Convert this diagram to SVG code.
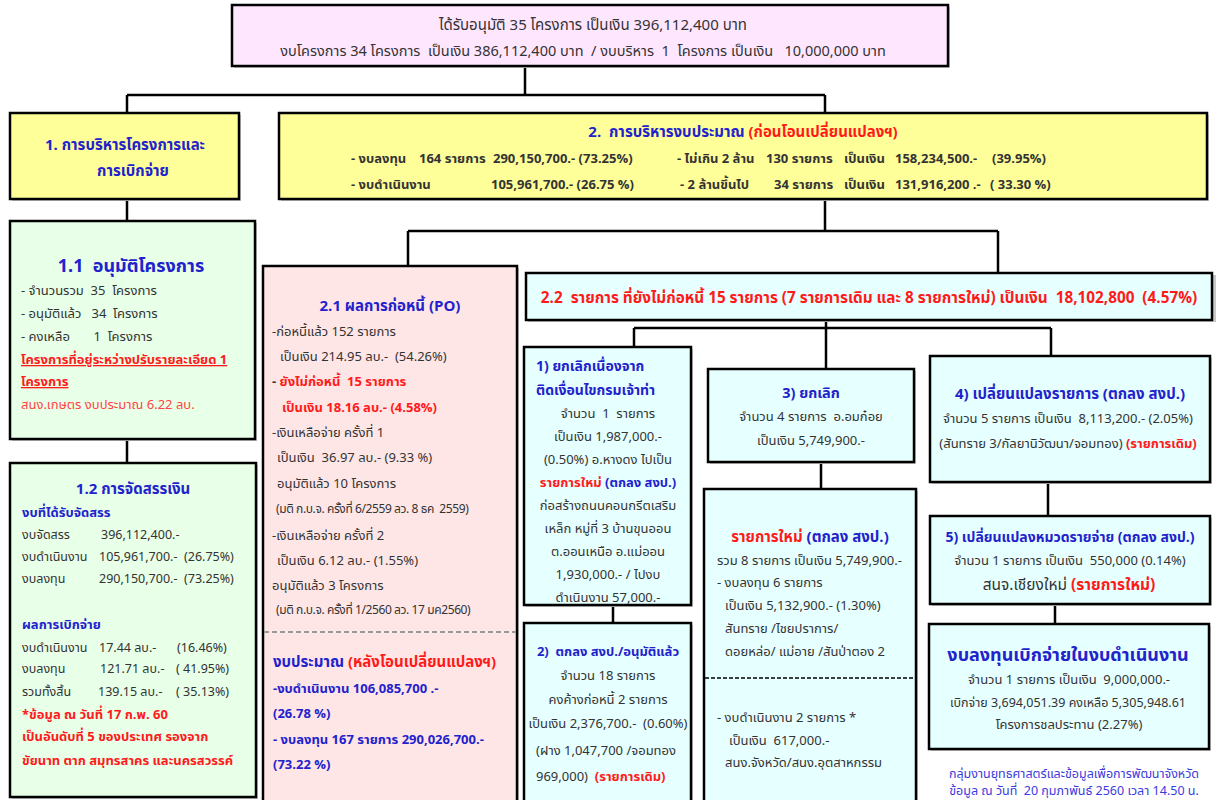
<svg xmlns="http://www.w3.org/2000/svg" width="1216" height="800" viewBox="0 0 1216 800">
<style>
.bx{stroke:#000;stroke-width:2.5}
.sh{fill:#c8c8c8}
.pk{fill:#FFE6FF}
.yl{fill:#FFFF99}
.gr{fill:#E8FFE8}
.rs{fill:#FFE6E6}
.cy{fill:#E6FFFF}
text{font-family:Tahoma,"Noto Sans Thai","Noto Sans Thai UI","Noto Sans","DejaVu Sans",sans-serif;font-size:13px;fill:#333}
.b{font-weight:bold}
.bl{fill:#2222CC}
.rd{fill:#FF1A1A}
.c{text-anchor:middle}
.ln{stroke:#000;stroke-width:2.5;fill:none}
.ft{fill:#3B3BDD;font-size:12.5px}
.s12{font-size:12px;letter-spacing:-0.4px}
.s125{font-size:12.5px}
.s14{font-size:14px}
.s145{font-size:14.5px}
.s15{font-size:15px}
.s153{font-size:15.3px}
.s155{font-size:15.5px}
.s18{font-size:18px}
</style>
<g id="connectors" class="ln">
<path d="M525,66V95M127,95H825M127,95V113M825,95V113M127,199V221M127,439V463M825,199V231M408,231H998M408,231V266M998,231V273M826,320V369M634,328H1051M634,328V346M1051,328V356M613,605V623M821,462V489M1048,482V516M1055,604V624"/>
</g>
<g id="top">
<rect class="sh" x="234" y="7" width="716" height="61"/>
<rect class="bx pk" x="232" y="5" width="716" height="61"/>
<text class="c s15" x="593" y="30">ได้รับอนุมัติ 35 โครงการ เป็นเงิน 396,112,400 บาท</text>
<text class="c s145" x="583" y="56" xml:space="preserve">งบโครงการ 34 โครงการ  เป็นเงิน 386,112,400 บาท  / งบบริหาร  1  โครงการ เป็นเงิน   10,000,000 บาท</text>
</g>
<g id="n1">
<rect class="sh" x="12" y="115" width="229" height="86"/>
<rect class="bx yl" x="10" y="113" width="229" height="86"/>
<text class="c b bl s15" x="125" y="150">1. การบริหารโครงการและ</text>
<text class="c b bl s15" x="133" y="176">การเบิกจ่าย</text>
</g>
<g id="n2">
<rect class="sh" x="281" y="115" width="928" height="86"/>
<rect class="bx yl" x="279" y="113" width="928" height="86"/>
<text class="c b s15" x="743" y="137" xml:space="preserve"><tspan class="bl">2.  การบริหารงบประมาณ </tspan><tspan class="rd">(ก่อนโอนเปลี่ยนแปลงฯ)</tspan></text>
<text class="b" x="351" y="163">- งบลงทุน</text>
<text class="b" x="419" y="163">164 รายการ</text>
<text class="b" x="493" y="163">290,150,700.- (73.25%)</text>
<text class="b" x="677" y="163">- ไม่เกิน 2 ล้าน</text>
<text class="b" x="766" y="163">130 รายการ</text>
<text class="b" x="844" y="163">เป็นเงิน</text>
<text class="b" x="895" y="163">158,234,500.-</text>
<text class="b" x="992" y="163">(39.95%)</text>
<text class="b" x="351" y="189">- งบดำเนินงาน</text>
<text class="b" x="491" y="189">105,961,700.- (26.75 %)</text>
<text class="b" x="680" y="189">- 2 ล้านขึ้นไป</text>
<text class="b" x="774" y="189">34 รายการ</text>
<text class="b" x="844" y="189">เป็นเงิน</text>
<text class="b" x="895" y="189">131,916,200 .-</text>
<text class="b" x="990" y="189">( 33.30 %)</text>
</g>
<g id="n11">
<rect class="sh" x="12" y="223" width="245" height="218"/>
<rect class="bx gr" x="10" y="221" width="245" height="218"/>
<text class="c b bl s18" x="131" y="272" xml:space="preserve">1.1  อนุมัติโครงการ</text>
<text x="21" y="295" xml:space="preserve">- จำนวนรวม  35  โครงการ</text>
<text x="21" y="318" xml:space="preserve">- อนุมัติแล้ว   34  โครงการ</text>
<text x="21" y="341" xml:space="preserve">- คงเหลือ       1  โครงการ</text>
<text class="b rd" x="21" y="364" text-decoration="underline">โครงการที่อยู่ระหว่างปรับรายละเอียด 1</text>
<text class="b rd" x="21" y="386" text-decoration="underline">โครงการ</text>
<text x="21" y="409" style="fill:#FF4444">สนง.เกษตร งบประมาณ 6.22 ลบ.</text>
</g>
<g id="n12">
<rect class="sh" x="12" y="465" width="246" height="334"/>
<rect class="bx gr" x="10" y="463" width="246" height="334"/>
<text class="c b bl s15" x="133" y="494">1.2 การจัดสรรเงิน</text>
<text class="b bl" x="22" y="517">งบที่ได้รับจัดสรร</text>
<text class="s125" x="22" y="539">งบจัดสรร</text><text class="s125" x="101" y="539">396,112,400.-</text>
<text class="s125" x="22" y="561">งบดำเนินงาน</text><text class="s125" x="99" y="561">105,961,700.-</text><text class="s125" x="184" y="561">(26.75%)</text>
<text class="s125" x="22" y="583">งบลงทุน</text><text class="s125" x="99" y="583">290,150,700.-</text><text class="s125" x="184" y="583">(73.25%)</text>
<text class="b bl" x="22" y="629">ผลการเบิกจ่าย</text>
<text class="s125" x="22" y="652">งบดำเนินงาน</text><text class="s125" x="99" y="652">17.44 ลบ.-</text><text class="s125" x="177" y="652">(16.46%)</text>
<text class="s125" x="22" y="673">งบลงทุน</text><text class="s125" x="100" y="673">121.71 ลบ.-</text><text class="s125" x="176" y="673">( 41.95%)</text>
<text class="s125" x="22" y="696">รวมทั้งสิ้น</text><text class="s125" x="98" y="696">139.15 ลบ.-</text><text class="s125" x="176" y="696">( 35.13%)</text>
<text class="b rd" x="22" y="719">*ข้อมูล ณ วันที่ 17 ก.พ. 60</text>
<text class="b rd" x="22" y="741">เป็นอันดับที่ 5 ของประเทศ รองจาก</text>
<text class="b rd" x="22" y="765">ขัยนาท ตาก สมุทรสาคร และนครสวรรค์</text>
</g>
<g id="n21">
<rect class="sh" x="265" y="268" width="254" height="545"/>
<rect class="bx rs" x="263" y="266" width="254" height="545"/>
<text class="c b bl s15" x="390" y="311">2.1 ผลการก่อหนี้ (PO)</text>
<text x="272" y="336">-ก่อหนี้แล้ว 152 รายการ</text>
<text x="280" y="361" xml:space="preserve">เป็นเงิน 214.95 ลบ.-  (54.26%)</text>
<text x="272" y="386" class="b"><tspan>- </tspan><tspan class="rd" xml:space="preserve">ยังไม่ก่อหนี้  15 รายการ</tspan></text>
<text class="b rd" x="282" y="412">เป็นเงิน 18.16 ลบ.- (4.58%)</text>
<text x="272" y="437">-เงินเหลือจ่าย ครั้งที่ 1</text>
<text x="277" y="462" xml:space="preserve">เป็นเงิน  36.97 ลบ.- (9.33 %)</text>
<text x="277" y="488">อนุมัติแล้ว 10 โครงการ</text>
<text class="s12" x="276" y="513" xml:space="preserve">(มติ ก.บ.จ. ครั้งที่ 6/2559 ลว. 8 ธค  2559)</text>
<text x="272" y="540">-เงินเหลือจ่าย ครั้งที่ 2</text>
<text x="277" y="565">เป็นเงิน 6.12 ลบ.- (1.55%)</text>
<text x="272" y="590">อนุมัติแล้ว 3 โครงการ</text>
<text class="s12" x="276" y="614">(มติ ก.บ.จ. ครั้งที่ 1/2560 ลว. 17 มค2560)</text>
<path d="M264,632H516" stroke="#999" stroke-width="2" stroke-dasharray="5,3"/>
<text class="b s15" x="273" y="667"><tspan class="bl">งบประมาณ </tspan><tspan class="rd">(หลังโอนเปลี่ยนแปลงฯ)</tspan></text>
<text class="b bl" x="273" y="693">-งบดำเนินงาน 106,085,700 .-</text>
<text class="b bl" x="273" y="718">(26.78 %)</text>
<text class="b bl" x="273" y="744">- งบลงทุน 167 รายการ 290,026,700.-</text>
<text class="b bl" x="273" y="769">(73.22 %)</text>
</g>
<g id="n22">
<rect class="sh" x="528" y="275" width="688" height="47"/>
<rect class="bx cy" x="526" y="273" width="686" height="47"/>
<text class="c b rd s153" x="869" y="303" xml:space="preserve">2.2  รายการ ที่ยังไม่ก่อหนี้ 15 รายการ (7 รายการเดิม และ 8 รายการใหม่) เป็นเงิน  18,102,800  (4.57%)</text>
</g>
<g id="n22-1">
<rect class="sh" x="526" y="349" width="167" height="258"/>
<rect class="bx cy" x="524" y="347" width="167" height="258"/>
<text class="b bl s14" x="536" y="371">1) ยกเลิกเนื่องจาก</text>
<text class="b bl s14" x="536" y="395">ติดเงื่อนไขกรมเจ้าท่า</text>
<text class="c" x="608" y="418" xml:space="preserve">จำนวน  1  รายการ</text>
<text class="c" x="608" y="441">เป็นเงิน 1,987,000.-</text>
<text class="c" x="608" y="464">(0.50%) อ.หางดง ไปเป็น</text>
<text class="c b" x="608" y="487"><tspan class="rd">รายการใหม่ </tspan><tspan class="bl">(ตกลง สงป.)</tspan></text>
<text class="c" x="608" y="510">ก่อสร้างถนนคอนกรีตเสริม</text>
<text class="c" x="608" y="533">เหล็ก หมู่ที่ 3 บ้านขุนออน</text>
<text class="c" x="608" y="556">ต.ออนเหนือ อ.แม่ออน</text>
<text class="c" x="608" y="579">1,930,000.- / ไปงบ</text>
<text class="c" x="608" y="602">ดำเนินงาน 57,000.-</text>
</g>
<g id="n22-2">
<rect class="sh" x="526" y="625" width="167" height="190"/>
<rect class="bx cy" x="524" y="623" width="167" height="190"/>
<text class="c b bl" x="608" y="656" xml:space="preserve">2)  ตกลง สงป./อนุมัติแล้ว</text>
<text class="c" x="608" y="680">จำนวน 18 รายการ</text>
<text class="c" x="608" y="704">คงค้างก่อหนี้ 2 รายการ</text>
<text class="c" x="608" y="728" xml:space="preserve">เป็นเงิน 2,376,700.-  (0.60%)</text>
<text x="536" y="755">(ฝาง 1,047,700 /จอมทอง</text>
<text x="536" y="781" xml:space="preserve">969,000)  <tspan class="b rd">(รายการเดิม)</tspan></text>
</g>
<g id="n22-3">
<rect class="sh" x="710" y="371" width="206" height="93"/>
<rect class="bx cy" x="708" y="369" width="206" height="93"/>
<text class="c b bl s145" x="811" y="398">3) ยกเลิก</text>
<text class="c" x="811" y="421" xml:space="preserve">จำนวน 4 รายการ  อ.อมก๋อย</text>
<text class="c" x="811" y="445">เป็นเงิน 5,749,900.-</text>
</g>
<g id="n22-3new">
<rect class="sh" x="706" y="491" width="212" height="322"/>
<rect class="bx cy" x="704" y="489" width="212" height="322"/>
<text class="c b s15" x="810" y="542"><tspan class="rd">รายการใหม่ </tspan><tspan class="bl">(ตกลง สงป.)</tspan></text>
<text x="717" y="565">รวม 8 รายการ เป็นเงิน 5,749,900.-</text>
<text x="717" y="587">- งบลงทุน 6 รายการ</text>
<text x="725" y="610">เป็นเงิน 5,132,900.- (1.30%)</text>
<text x="725" y="633">สันทราย /ไชยปราการ/</text>
<text x="725" y="656">ดอยหล่อ/ แม่อาย /สันป่าตอง 2</text>
<path d="M705,678H915" stroke="#000" stroke-width="1.5" stroke-dasharray="4,2"/>
<text x="717" y="722">- งบดำเนินงาน 2 รายการ *</text>
<text x="729" y="745" xml:space="preserve">เป็นเงิน  617,000.-</text>
<text x="725" y="767">สนง.จังหวัด/สนง.อุตสาหกรรม</text>
</g>
<g id="n22-4">
<rect class="sh" x="932" y="358" width="280" height="126"/>
<rect class="bx cy" x="930" y="356" width="280" height="126"/>
<text class="c b bl s15" x="1070" y="399">4) เปลี่ยนแปลงรายการ (ตกลง สงป.)</text>
<text class="c" x="1068" y="423" xml:space="preserve">จำนวน 5 รายการ เป็นเงิน  8,113,200.- (2.05%)</text>
<text class="c" x="1068" y="448">(สันทราย 3/กัลยานิวัฒนา/จอมทอง) <tspan class="b rd">(รายการเดิม)</tspan></text>
</g>
<g id="n22-5">
<rect class="sh" x="932" y="518" width="280" height="88"/>
<rect class="bx cy" x="930" y="516" width="280" height="88"/>
<text class="c b bl s14" x="1070" y="542">5) เปลี่ยนแปลงหมวดรายจ่าย (ตกลง สงป.)</text>
<text class="c" x="1070" y="565" xml:space="preserve">จำนวน 1 รายการ เป็นเงิน  550,000 (0.14%)</text>
<text class="c s155" x="1069" y="590">สนจ.เชียงใหม่ <tspan class="b rd">(รายการใหม่)</tspan></text>
</g>
<g id="n22-6">
<rect class="sh" x="931" y="626" width="280" height="125"/>
<rect class="bx cy" x="929" y="624" width="280" height="125"/>
<text class="c b bl s18" x="1068" y="661">งบลงทุนเบิกจ่ายในงบดำเนินงาน</text>
<text class="c" x="1069" y="684" xml:space="preserve">จำนวน 1 รายการ เป็นเงิน  9,000,000.-</text>
<text class="c s125" x="1068" y="707">เบิกจ่าย 3,694,051.39 คงเหลือ 5,305,948.61</text>
<text class="c" x="1069" y="729">โครงการชลประทาน (2.27%)</text>
</g>
<g id="footer">
<text class="c ft" x="1074" y="778">กลุ่มงานยุทธศาสตร์และข้อมูลเพื่อการพัฒนาจังหวัด</text>
<text class="c ft" x="1074" y="795" xml:space="preserve">ข้อมูล ณ วันที่  20 กุมภาพันธ์ 2560 เวลา 14.50 น.</text>
</g>
</svg>
